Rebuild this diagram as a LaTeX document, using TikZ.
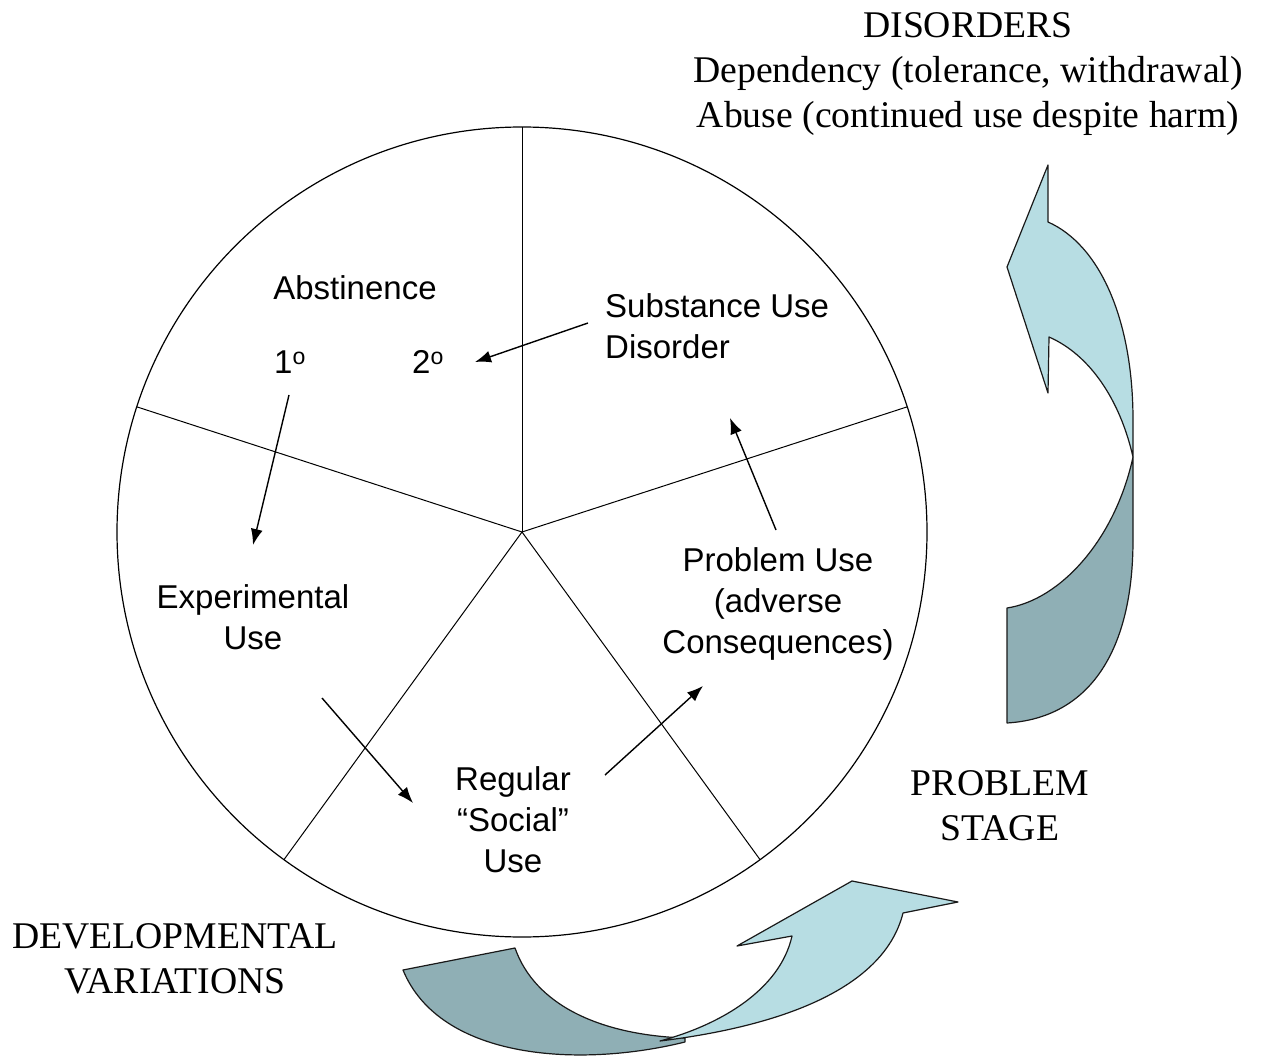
\documentclass[tikz,border=0pt]{standalone}
\usepackage{fontspec}
\setmainfont{Liberation Serif}
\setsansfont{Liberation Sans}
\usetikzlibrary{arrows.meta}
\definecolor{headblue}{RGB}{183,221,227}
\definecolor{tailgray}{RGB}{143,175,181}

\begin{document}
\begin{tikzpicture}[x=1pt, y=-1pt,
    stage/.style={font=\sffamily\fontsize{33}{41}\selectfont, align=center, inner sep=0pt},
    phase/.style={font=\fontsize{37.7}{45}\selectfont, align=center, inner sep=0pt},
    flow/.style={-{Latex[length=16pt,width=12pt]}, line width=1.4pt},
    band/.style={draw=black!90, line width=1.2pt, line join=round}]
        \useasboundingbox (0,0) rectangle (1264,1059);

        % Wheel of stages
        \coordinate (C) at (522,532);
        \draw[line width=1.2pt] (C) circle (405pt);
        \foreach \a in {90,18,-54,-126,162}
            \draw[line width=1pt] (C) -- ++(\a:405pt);

        % Stage labels
        \node[stage] (abst) at (355,288) {Abstinence};
        \node[stage] (one) at (290,362) {1\textsuperscript{o}};
        \node[stage] (two) at (428,362) {2\textsuperscript{o}};
        \node[stage, align=left, anchor=west] (sud) at (605,326) {Substance Use\\Disorder};
        \node[stage] (exp) at (253,617) {Experimental\\Use};
        \node[stage] (reg) at (513,820) {Regular\\“Social”\\Use};
        \node[stage] (prob) at (778,604) {Problem Use\\(adverse\\Consequences)};

        % Outer labels
        \node[phase] (dis) at (968,74) {DISORDERS\\Dependency (tolerance, withdrawal)\\Abuse (continued use despite harm)};
        \node[phase] (pstage) at (1000,806) {PROBLEM\\STAGE};
        \node[phase] (dev) at (175,959) {DEVELOPMENTAL\\VARIATIONS};

        % Arrow ends
        \coordinate (sud_s) at (588,323);
        \coordinate (two_e) at (475,362);
        \coordinate (one_s) at (289,395);
        \coordinate (exp_e) at (253,545);
        \coordinate (exp_s) at (322,698);
        \coordinate (reg_e) at (413,803);
        \coordinate (reg_s) at (605,775);
        \coordinate (prob_e) at (703,686);
        \coordinate (prob_s) at (776,530);
        \coordinate (sud_e) at (730,418);

        \draw[flow] (sud_s) -- (two_e);
        \draw[flow] (one_s) -- (exp_e);
        \draw[flow] (exp_s) -- (reg_e);
        \draw[flow] (reg_s) -- (prob_e);
        \draw[flow] (prob_s) -- (sud_e);

        % Right curved arrow
        \filldraw[band, fill=tailgray] (1133,457) -- (1133,540)
            .. controls (1133,650) and (1090,718) .. (1007,723) -- (1007,608)
            .. controls (1060,600) and (1115,540) .. (1133,457) -- cycle;
        \filldraw[band, fill=headblue] (1133,457)
            .. controls (1120,400) and (1090,355) .. (1049,337)
            -- (1048,393) -- (1007,267) -- (1048,165) -- (1048,222)
            .. controls (1100,245) and (1133,320) .. (1133,420) -- cycle;

        % Bottom curved arrow
        \filldraw[band, fill=tailgray] (403,970) -- (515,948)
            .. controls (535,1005) and (600,1035) .. (685,1038)
            -- (685,1042)
            .. controls (580,1068) and (440,1060) .. (403,970) -- cycle;
        \filldraw[band, fill=headblue] (660,1041)
            .. controls (720,1025) and (780,990) .. (792,936)
            -- (737,946) -- (852,881) -- (958,902) -- (903,913)
            .. controls (885,985) and (790,1025) .. (660,1041) -- cycle;

    \end{tikzpicture}
\end{document}
